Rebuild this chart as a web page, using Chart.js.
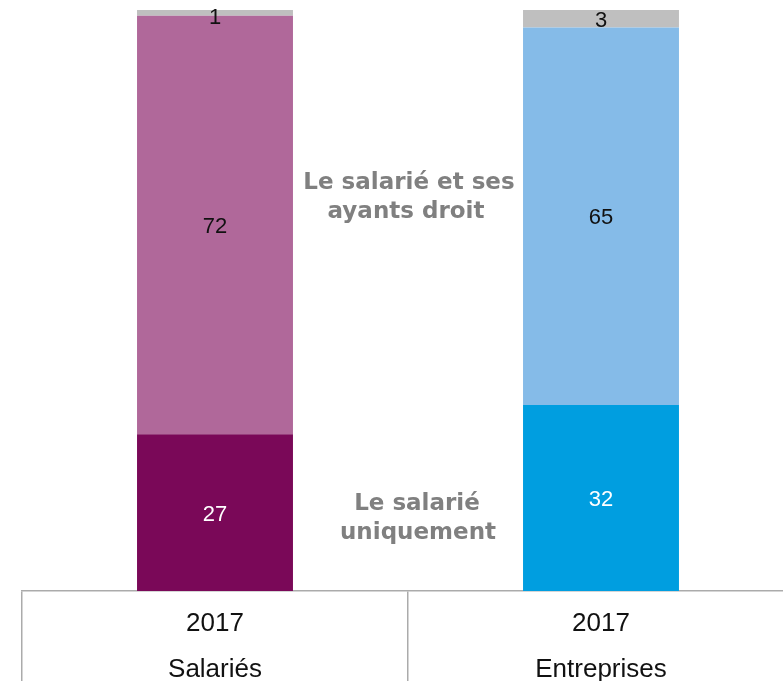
<!DOCTYPE html>
<html>
<head>
<meta charset="utf-8">
<script src="https://cdn.jsdelivr.net/npm/chart.js@4"></script>
<style>
  html, body { margin: 0; padding: 0; background: #fff; overflow: hidden; }
  canvas { display: block; }
</style>
</head>
<body>
<canvas id="partChart" width="795" height="681"></canvas>
<script>
var labels = [['2017', 'Salariés'], ['2017', 'Entreprises']];
var uniquement = [27, 32];
var ayantsDroit = [72, 65];
var autres = [1, 3];

var colUnique = ['#7a0858', '#009ee0'];
var colAyants = ['#b0689a', '#85bbe8'];
var colAutres = ['#bfbfbf', '#bfbfbf'];

// valeurs dans les barres
var valueLabels = {
    id: 'valueLabels',
    afterDatasetsDraw(chart) {
        var ctx = chart.ctx
        ctx.save()
        ctx.font = '22px "Liberation Sans", Arial, sans-serif'
        ctx.textAlign = 'center'
        ctx.textBaseline = 'middle'
        chart.data.datasets.forEach(function (ds, i) {
            var meta = chart.getDatasetMeta(i)
            meta.data.forEach(function (bar, j) {
                ctx.fillStyle = i == 0 ? '#ffffff' : '#111111'
                var y = (bar.y + bar.base) / 2 + 2
                if (i == 2 && j == 0) y += 3
                ctx.fillText(ds.data[j], bar.x, y)
            })
        })
        ctx.restore()
    }
}

// textes gris entre les barres
var seriesNames = {
    id: 'seriesNames',
    afterDraw(chart) {
        var ctx = chart.ctx
        var xs = chart.scales.x, ys = chart.scales.y
        var mid = (xs.getPixelForValue(0) + xs.getPixelForValue(1)) / 2
        ctx.save()
        ctx.font = 'bold 23px "DejaVu Sans", Verdana, sans-serif'
        ctx.fillStyle = '#808080'
        ctx.textAlign = 'center'
        ctx.textBaseline = 'middle'
        var y1 = ys.getPixelForValue(70.3)
        ctx.fillText('Le salarié et ses', mid + 1, y1)
        ctx.fillText('ayants droit', mid - 2, y1 + 29)
        var y2 = ys.getPixelForValue(15.0)
        ctx.fillText('Le salarié', mid + 9, y2)
        ctx.fillText('uniquement', mid + 10, y2 + 29)
        ctx.restore()
    }
}

new Chart('partChart', {
    type: 'bar',
    data: {
        labels: labels,
        datasets: [{
            label: 'Le salarié uniquement',
            data: uniquement,
            backgroundColor: colUnique
        }, {
            label: 'Le salarié et ses ayants droit',
            data: ayantsDroit,
            backgroundColor: colAyants
        }, {
            label: 'Autres',
            data: autres,
            backgroundColor: colAutres
        }]
    },
    options: {
        responsive: false,
        animation: false,
        events: [],
        categoryPercentage: 1,
        barPercentage: 0.404,
        layout: { padding: { left: 22, right: 1, top: 10, bottom: 0 } },
        plugins: {
            legend: { display: false },
            tooltip: { enabled: false },
            title: { display: false }
        },
        scales: {
            y: {
                stacked: true,
                display: false,
                min: 0,
                max: 100
            },
            x: {
                stacked: true,
                afterFit: function (s) { s.height = 90 },
                grid: {
                    offset: true,
                    drawOnChartArea: false,
                    drawTicks: true,
                    tickLength: 90,
                    color: '#ababab',
                    lineWidth: 1.5
                },
                border: { display: true, color: '#ababab', width: 1.5 },
                ticks: {
                    padding: -80,
                    maxRotation: 0,
                    autoSkip: false,
                    color: '#111111',
                    font: { family: '"Liberation Sans", Arial, sans-serif', size: 26, lineHeight: 1.77 }
                }
            }
        }
    },
    plugins: [valueLabels, seriesNames]
})
</script>
</body>
</html>
